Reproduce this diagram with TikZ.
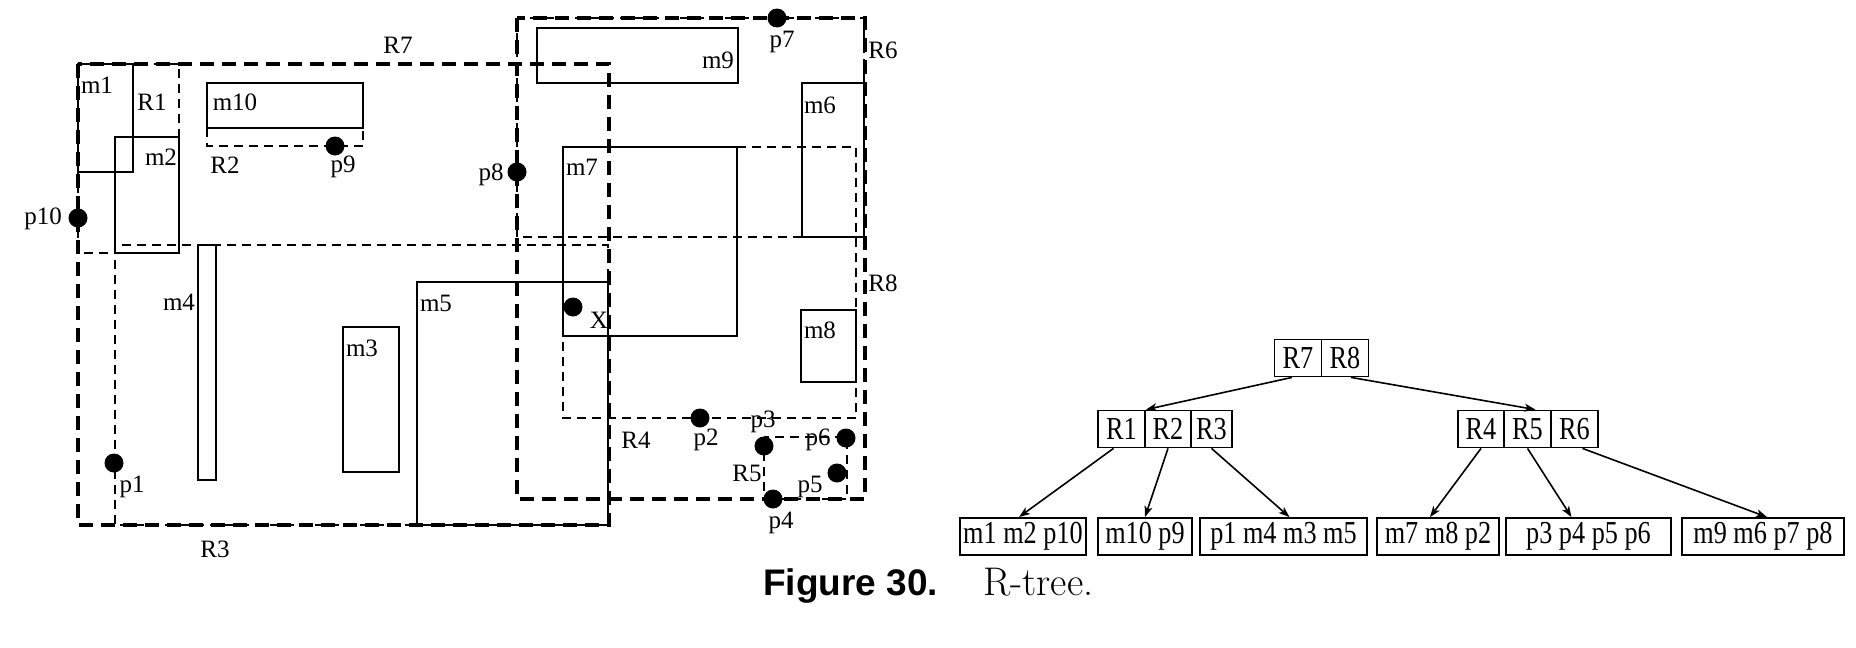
\documentclass[tikz,border=0pt]{standalone}
\usepackage{fontspec}
\newfontfamily\tms{Liberation Serif}
\newfontfamily\tmsnarrow[FakeStretch=0.82]{Liberation Serif}
\newfontfamily\capsans{Liberation Sans}
\usetikzlibrary{arrows.meta,calc}
\begin{document}
\begin{tikzpicture}[x=1pt,y=-1pt,
  solidbox/.style={line width=2.8pt},
  thindash/.style={line width=2.4pt,dash pattern=on 9pt off 6pt},
  thickdash/.style={line width=4pt,dash pattern=on 14pt off 8pt},
  dot/.style={circle,fill=black,inner sep=0pt,minimum size=19pt},
  lab/.style={inner sep=0pt,font=\tms\fontsize{25}{25}\selectfont},
  cell/.style={draw,line width=1.8pt,inner sep=0pt,minimum height=37pt,font=\tmsnarrow\fontsize{32}{32}\selectfont},
  arr/.style={line width=1.6pt,-{Stealth[length=11pt,width=8pt,inset=3pt]}}
]
\useasboundingbox (0,0) rectangle (1856,648);

% ---- data rectangles
\draw[solidbox] (78,64) rectangle (133,172);   % m1
\draw[solidbox] (115,137) rectangle (179,253); % m2
\draw[solidbox] (207,83) rectangle (363,128);  % m10
\draw[solidbox] (198,245) rectangle (216,480); % m4
\draw[solidbox] (343,327) rectangle (399,472); % m3
\draw[solidbox] (417,282) rectangle (608,525); % m5
\draw[solidbox] (537,28) rectangle (738,83);   % m9
\draw[solidbox] (802,83) rectangle (864,237);  % m6
\draw[solidbox] (563,147) rectangle (737,336); % m7
\draw[solidbox] (801,310) rectangle (856,382); % m8

% ---- directory rectangles
\draw[thindash] (78,64) rectangle (179,253);   % R1
\draw[thindash] (207,83) rectangle (363,146);  % R2
\draw[thindash] (115,245) rectangle (608,525); % R3
\draw[thindash] (563,147) rectangle (856,418); % R4
\draw[thindash] (764,437) rectangle (847,499); % R5
\draw[thindash] (517,18) rectangle (864,237);  % R6
\draw[thickdash] (78,64) rectangle (609,525);  % R7
\draw[thickdash] (517,18) rectangle (865,499); % R8

% ---- points
\node[dot] (p10) at (78,218) {};
\node[dot] (p9) at (335,146) {};
\node[dot] (p1) at (114,463) {};
\node[dot] (p8) at (517,172) {};
\node[dot] (p7) at (777,18) {};
\node[dot] (px) at (573,307) {};
\node[dot] (p2) at (700,418) {};
\node[dot] (p3) at (764,446) {};
\node[dot] (p6) at (846,438) {};
\node[dot] (p5) at (837,473) {};
\node[dot] (p4) at (773,499) {};

% ---- labels
\node[lab] (lm1) at (97,85) {m1};
\node[lab] (lR1) at (152,102) {R1};
\node[lab] (lm10) at (235,102) {m10};
\node[lab] (lm2) at (161,157) {m2};
\node[lab] (lR2) at (225,165) {R2};
\node[lab] (lp9) at (343,167) {p9};
\node[lab] (lR7) at (398,45) {R7};
\node[lab] (lp10) at (43,219) {p10};
\node[lab] (lm4) at (179,302) {m4};
\node[lab] (lm3) at (362,348) {m3};
\node[lab] (lm5) at (436,303) {m5};
\node[lab] (lp1) at (132,487) {p1};
\node[lab] (lR3) at (215,549) {R3};
\node[lab] (lp8) at (491,175) {p8};
\node[lab] (lm7) at (582,167) {m7};
\node[lab] (lm9) at (718,60) {m9};
\node[lab] (lp7) at (782,42) {p7};
\node[lab] (lR6) at (883,50) {R6};
\node[lab] (lm6) at (820,105) {m6};
\node[lab] (lR8) at (883,283) {R8};
\node[lab] (lX) at (599,320) {X};
\node[lab] (lm8) at (820,330) {m8};
\node[lab] (lR4) at (636,440) {R4};
\node[lab] (lp2) at (706,440) {p2};
\node[lab] (lp3) at (763,422) {p3};
\node[lab] (lp6) at (818,440) {p6};
\node[lab] (lR5) at (747,473) {R5};
\node[lab] (lp5) at (810,487) {p5};
\node[lab] (lp4) at (781,523) {p4};

% ---- tree
\node[cell,minimum width=47pt] (t7) at (1298,358) {R7};
\node[cell,minimum width=47pt] (t8) at (1345,358) {R8};
\node[cell,minimum width=47pt] (t1) at (1121.5,429) {R1};
\node[cell,minimum width=46pt] (t2) at (1168,429) {R2};
\node[cell,minimum width=41pt] (t3) at (1211.5,429) {R3};
\node[cell,minimum width=46pt] (t4) at (1481,429) {R4};
\node[cell,minimum width=47pt] (t5) at (1527.5,429) {R5};
\node[cell,minimum width=47pt] (t6) at (1574.5,429) {R6};
\node[cell,minimum width=126pt] (l1) at (1023,536.5) {m1 m2 p10};
\node[cell,minimum width=94pt] (l2) at (1145,536.5) {m10 p9};
\node[cell,minimum width=167pt] (l3) at (1283.5,536.5) {p1 m4 m3 m5};
\node[cell,minimum width=122pt] (l4) at (1438,536.5) {m7 m8 p2};
\node[cell,minimum width=165pt] (l5) at (1588.5,536.5) {p3 p4 p5 p6};
\node[cell,minimum width=162pt] (l6) at (1763,536.5) {m9 m6 p7 p8};

\draw[arr] ($(t7.south)+(-6,0)$) -- (t1.north east);
\draw[arr] ($(t8.south)+(6,0)$) -- ($(t5.north)+(8,0)$);
\draw[arr] ($(t1.south)+(-8,0)$) -- ($(l1.north)+(-4,0)$);
\draw[arr] (t2.south) -- (l2.north);
\draw[arr] (t3.south) -- ($(l3.north)+(6,0)$);
\draw[arr] (t4.south) -- ($(l4.north)+(-8,0)$);
\draw[arr] (t5.south) -- ($(l5.north)+(-17,0)$);
\draw[arr] ($(t6.south)+(8,0)$) -- ($(l6.north)+(4,0)$);

% ---- caption
\node[anchor=base west,inner sep=0pt,font=\capsans\bfseries\fontsize{37}{37}\selectfont] (cap1) at (763,595) {Figure 30.};
\node[anchor=base west,inner sep=0pt,font=\fontsize{40}{40}\selectfont] (cap2) at (983,595) {R-tree.};
\end{tikzpicture}
\end{document}
